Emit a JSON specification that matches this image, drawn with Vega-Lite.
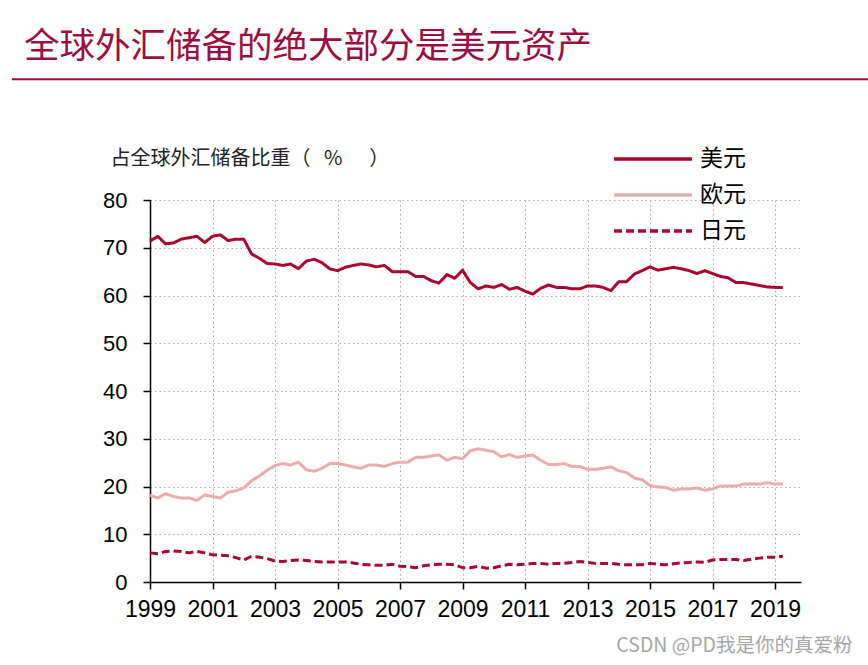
{
  "$schema": "https://vega.github.io/schema/vega-lite/v6.json",
  "width": 651,
  "height": 382,
  "autosize": {"type": "none"},
  "padding": {"left": 150, "top": 200, "right": 67, "bottom": 83},
  "background": "white",
  "config": {
    "view": {"stroke": null},
    "font": "Liberation Sans"
  },
  "title": {
    "text": "全球外汇储备的绝大部分是美元资产",
    "anchor": "start",
    "frame": "group",
    "font": "Noto Sans CJK SC",
    "fontSize": 35.5,
    "fontWeight": "normal",
    "color": "#9A0F3F",
    "dx": -126,
    "offset": 13
  },
  "datasets": {
    "cofer": [
      {"year": 1999.0, "美元": 71.4, "欧元": 18.2, "日元": 6.1},
      {"year": 1999.25, "美元": 72.4, "欧元": 17.6, "日元": 5.9},
      {"year": 1999.5, "美元": 70.8, "欧元": 18.5, "日元": 6.4},
      {"year": 1999.75, "美元": 71.0, "欧元": 17.9, "日元": 6.5},
      {"year": 2000.0, "美元": 71.8, "欧元": 17.6, "日元": 6.4},
      {"year": 2000.25, "美元": 72.1, "欧元": 17.6, "日元": 6.1},
      {"year": 2000.5, "美元": 72.4, "欧元": 17.1, "日元": 6.4},
      {"year": 2000.75, "美元": 71.1, "欧元": 18.2, "日元": 6.1},
      {"year": 2001.0, "美元": 72.4, "欧元": 17.9, "日元": 5.7},
      {"year": 2001.25, "美元": 72.7, "欧元": 17.6, "日元": 5.6},
      {"year": 2001.5, "美元": 71.5, "欧元": 18.8, "日元": 5.5},
      {"year": 2001.75, "美元": 71.8, "欧元": 19.1, "日元": 5.1},
      {"year": 2002.0, "美元": 71.8, "欧元": 19.7, "日元": 4.6},
      {"year": 2002.25, "美元": 68.7, "欧元": 21.2, "日元": 5.4},
      {"year": 2002.5, "美元": 67.8, "欧元": 22.2, "日元": 5.2},
      {"year": 2002.75, "美元": 66.7, "欧元": 23.4, "日元": 4.9},
      {"year": 2003.0, "美元": 66.6, "欧元": 24.4, "日元": 4.4},
      {"year": 2003.25, "美元": 66.3, "欧元": 24.8, "日元": 4.3},
      {"year": 2003.5, "美元": 66.6, "欧元": 24.5, "日元": 4.5},
      {"year": 2003.75, "美元": 65.6, "欧元": 25.1, "日元": 4.6},
      {"year": 2004.0, "美元": 67.2, "欧元": 23.5, "日元": 4.5},
      {"year": 2004.25, "美元": 67.6, "欧元": 23.2, "日元": 4.3},
      {"year": 2004.5, "美元": 66.9, "欧元": 23.8, "日元": 4.2},
      {"year": 2004.75, "美元": 65.6, "欧元": 24.8, "日元": 4.2},
      {"year": 2005.0, "美元": 65.2, "欧元": 24.8, "日元": 4.2},
      {"year": 2005.25, "美元": 65.9, "欧元": 24.5, "日元": 4.2},
      {"year": 2005.5, "美元": 66.3, "欧元": 24.1, "日元": 4.0},
      {"year": 2005.75, "美元": 66.6, "欧元": 23.8, "日元": 3.7},
      {"year": 2006.0, "美元": 66.4, "欧元": 24.5, "日元": 3.6},
      {"year": 2006.25, "美元": 66.0, "欧元": 24.5, "日元": 3.5},
      {"year": 2006.5, "美元": 66.3, "欧元": 24.2, "日元": 3.5},
      {"year": 2006.75, "美元": 65.0, "欧元": 24.8, "日元": 3.7},
      {"year": 2007.0, "美元": 65.0, "欧元": 25.1, "日元": 3.3},
      {"year": 2007.25, "美元": 65.0, "欧元": 25.1, "日元": 3.2},
      {"year": 2007.5, "美元": 64.0, "欧元": 26.1, "日元": 3.0},
      {"year": 2007.75, "美元": 64.0, "欧元": 26.1, "日元": 3.4},
      {"year": 2008.0, "美元": 63.1, "欧元": 26.4, "日元": 3.6},
      {"year": 2008.25, "美元": 62.6, "欧元": 26.6, "日元": 3.7},
      {"year": 2008.5, "美元": 64.4, "欧元": 25.5, "日元": 3.7},
      {"year": 2008.75, "美元": 63.6, "欧元": 26.1, "日元": 3.6},
      {"year": 2009.0, "美元": 65.3, "欧元": 25.8, "日元": 3.0},
      {"year": 2009.25, "美元": 62.7, "欧元": 27.5, "日元": 3.0},
      {"year": 2009.5, "美元": 61.4, "欧元": 27.9, "日元": 3.3},
      {"year": 2009.75, "美元": 62.0, "欧元": 27.6, "日元": 2.9},
      {"year": 2010.0, "美元": 61.7, "欧元": 27.3, "日元": 3.0},
      {"year": 2010.25, "美元": 62.3, "欧元": 26.2, "日元": 3.4},
      {"year": 2010.5, "美元": 61.3, "欧元": 26.7, "日元": 3.7},
      {"year": 2010.75, "美元": 61.7, "欧元": 26.1, "日元": 3.6},
      {"year": 2011.0, "美元": 60.9, "欧元": 26.4, "日元": 3.7},
      {"year": 2011.25, "美元": 60.3, "欧元": 26.6, "日元": 3.9},
      {"year": 2011.5, "美元": 61.5, "欧元": 25.5, "日元": 3.9},
      {"year": 2011.75, "美元": 62.2, "欧元": 24.6, "日元": 3.7},
      {"year": 2012.0, "美元": 61.7, "欧元": 24.6, "日元": 3.9},
      {"year": 2012.25, "美元": 61.7, "欧元": 24.8, "日元": 3.9},
      {"year": 2012.5, "美元": 61.4, "欧元": 24.2, "日元": 4.1},
      {"year": 2012.75, "美元": 61.4, "欧元": 24.2, "日元": 4.3},
      {"year": 2013.0, "美元": 62.0, "欧元": 23.6, "日元": 4.1},
      {"year": 2013.25, "美元": 62.0, "欧元": 23.6, "日元": 3.9},
      {"year": 2013.5, "美元": 61.7, "欧元": 23.8, "日元": 3.9},
      {"year": 2013.75, "美元": 61.0, "欧元": 24.1, "日元": 3.9},
      {"year": 2014.0, "美元": 62.9, "欧元": 23.3, "日元": 3.7},
      {"year": 2014.25, "美元": 62.9, "欧元": 22.9, "日元": 3.6},
      {"year": 2014.5, "美元": 64.5, "欧元": 21.8, "日元": 3.6},
      {"year": 2014.75, "美元": 65.2, "欧元": 21.4, "日元": 3.6},
      {"year": 2015.0, "美元": 66.0, "欧元": 20.2, "日元": 3.9},
      {"year": 2015.25, "美元": 65.3, "欧元": 19.9, "日元": 3.7},
      {"year": 2015.5, "美元": 65.6, "欧元": 19.8, "日元": 3.6},
      {"year": 2015.75, "美元": 65.9, "欧元": 19.2, "日元": 3.8},
      {"year": 2016.0, "美元": 65.6, "欧元": 19.5, "日元": 4.0},
      {"year": 2016.25, "美元": 65.2, "欧元": 19.5, "日元": 4.1},
      {"year": 2016.5, "美元": 64.6, "欧元": 19.7, "日元": 4.2},
      {"year": 2016.75, "美元": 65.2, "欧元": 19.2, "日元": 4.1},
      {"year": 2017.0, "美元": 64.6, "欧元": 19.5, "日元": 4.6},
      {"year": 2017.25, "美元": 64.0, "欧元": 20.1, "日元": 4.7},
      {"year": 2017.5, "美元": 63.7, "欧元": 20.1, "日元": 4.7},
      {"year": 2017.75, "美元": 62.7, "欧元": 20.1, "日元": 4.7},
      {"year": 2018.0, "美元": 62.7, "欧元": 20.5, "日元": 4.5},
      {"year": 2018.25, "美元": 62.4, "欧元": 20.5, "日元": 4.8},
      {"year": 2018.5, "美元": 62.1, "欧元": 20.5, "日元": 5.0},
      {"year": 2018.75, "美元": 61.8, "欧元": 20.8, "日元": 5.2},
      {"year": 2019.0, "美元": 61.7, "欧元": 20.5, "日元": 5.2},
      {"year": 2019.25, "美元": 61.7, "欧元": 20.5, "日元": 5.4}
    ]
  },
  "layer": [
    {
      "data": {"name": "cofer"},
      "transform": [
        {"fold": ["美元", "欧元", "日元"], "as": ["币种", "比重"]}
      ],
      "mark": {"type": "line", "strokeWidth": 3, "strokeJoin": "round"},
      "encoding": {
        "x": {
          "field": "year",
          "type": "quantitative",
          "scale": {"domain": [1999, 2019.83], "nice": false, "zero": false},
          "axis": {
            "values": [1999, 2001, 2003, 2005, 2007, 2009, 2011, 2013, 2015, 2017, 2019],
            "format": "d",
            "domainColor": "black",
            "domainWidth": 1.5,
            "tickColor": "black",
            "tickWidth": 1.5,
            "tickSize": 7,
            "labelFont": "Liberation Sans",
            "labelFontSize": 23,
            "labelColor": "black",
            "labelPadding": 9,
            "labelFlush": false,
            "labelOverlap": false,
            "grid": true,
            "gridColor": "#aaaaaa",
            "gridDash": [1.5, 3],
            "gridWidth": 1,
            "title": "CSDN @PD我是你的真爱粉",
            "titleFont": "Noto Sans CJK SC",
            "titleFontSize": 19.5,
            "titleFontWeight": "normal",
            "titleColor": "#a6a6a6",
            "titleAlign": "right",
            "titleAnchor": null,
            "titleX": 702,
            "titleY": 63,
            "titleBaseline": "middle"
          }
        },
        "y": {
          "field": "比重",
          "type": "quantitative",
          "scale": {"domain": [0, 80], "nice": false},
          "axis": {
            "values": [0, 10, 20, 30, 40, 50, 60, 70, 80],
            "domainColor": "black",
            "domainWidth": 1.5,
            "tickColor": "black",
            "tickWidth": 1.5,
            "tickSize": 7,
            "labelFont": "Liberation Sans",
            "labelFontSize": 22,
            "labelColor": "black",
            "labelPadding": 16,
            "grid": true,
            "gridColor": "#aaaaaa",
            "gridDash": [1.5, 3],
            "gridWidth": 1,
            "title": "占全球外汇储备比重（\u00a0\u00a0\u00a0%\u00a0\u00a0\u00a0\u00a0\u00a0\u00a0）",
            "titleFont": "Noto Sans CJK SC",
            "titleFontSize": 20,
            "titleFontWeight": "normal",
            "titleColor": "#222222",
            "titleAngle": 0,
            "titleAlign": "left",
            "titleAnchor": null,
            "titleBaseline": "middle",
            "titleX": -40,
            "titleY": -42
          }
        },
        "color": {
          "field": "币种",
          "type": "nominal",
          "sort": ["美元", "欧元", "日元"],
          "scale": {"domain": ["美元", "欧元", "日元"], "range": ["#A8072E", "#E9ACAC", "#A8072E"]},
          "legend": {
            "orient": "none",
            "legendX": 488,
            "legendY": -56,
            "title": null,
            "symbolType": "M-3,0H3",
            "symbolSize": 676,
            "symbolStrokeWidth": 3.5,
            "labelFont": "Noto Sans CJK SC",
            "labelFontSize": 23,
            "labelColor": "black",
            "labelOffset": 32,
            "rowPadding": 9,
            "padding": 0
          }
        },
        "strokeDash": {
          "field": "币种",
          "type": "nominal",
          "sort": ["美元", "欧元", "日元"],
          "scale": {"domain": ["美元", "欧元", "日元"], "range": [[1, 0], [1, 0], [8, 4]]}
        }
      }
    },
    {
      "data": {"values": [{}]},
      "mark": {"type": "rule", "color": "#9A0F3F", "strokeWidth": 2, "clip": false},
      "encoding": {
        "x": {"datum": 1994.58, "type": "quantitative"},
        "x2": {"datum": 2022.5},
        "y": {"datum": 105.3, "type": "quantitative"}
      }
    }
  ]
}
